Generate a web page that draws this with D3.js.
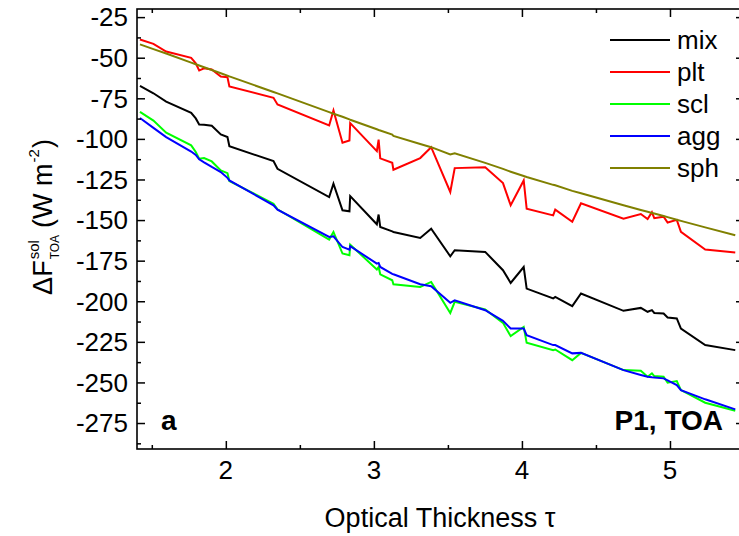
<!DOCTYPE html>
<html>
<head>
<meta charset="utf-8">
<script src="https://cdn.jsdelivr.net/npm/d3@7"></script>
<style>
  body { margin: 0; background: #fff; }
  svg { display: block; font-family: "Liberation Sans", Arial, sans-serif; }
</style>
</head>
<body>
<div id="chart"></div>
<script>
// optical thickness (shared x values)
const tau = [1.42, 1.511, 1.597, 1.766, 1.797, 1.82, 1.853, 1.905, 1.966, 2.011, 2.024, 2.322, 2.349,
  2.698, 2.727, 2.788, 2.835, 2.84, 3.02, 3.032, 3.043, 3.124, 3.132, 3.313, 3.387, 3.516, 3.546,
  3.752, 3.872, 3.924, 4.012, 4.032, 4.211, 4.225, 4.34, 4.399, 4.686, 4.803, 4.849, 4.878, 4.894,
  4.957, 4.984, 5.046, 5.074, 5.238, 5.441];

const mix = [-67.4, -71.9, -77.0, -83.9, -87.4, -91.1, -91.3, -91.9, -97.3, -98.9, -104.5, -113.7, -118.4,
  -135.8, -127.6, -144.0, -144.6, -135.2, -152.6, -146.6, -154.3, -157.0, -157.3, -161.0, -155.3, -172.3, -168.6,
  -169.6, -180.9, -188.7, -178.9, -192.2, -198.3, -197.3, -203.0, -195.2, -205.9, -204.1, -206.5, -205.5, -207.2,
  -207.5, -210.0, -210.6, -216.8, -227.0, -230.1];

const plt = [-38.8, -41.5, -46.2, -50.1, -53.4, -57.9, -56.5, -57.3, -61.6, -62.0, -67.7, -74.7, -78.8,
  -91.7, -82.5, -102.4, -101.0, -90.3, -107.5, -100.5, -112.0, -114.7, -119.0, -111.8, -105.1, -132.7, -118.0,
  -117.4, -127.2, -140.9, -125.6, -143.0, -147.1, -143.6, -151.0, -139.7, -149.1, -146.3, -149.4, -145.2, -148.8,
  -147.9, -151.5, -149.9, -157.3, -168.2, -170.0];

const scl = [-83.4, -88.7, -96.2, -104.0, -108.1, -112.2, -111.8, -113.9, -119.4, -121.1, -126.0, -139.9, -143.4,
  -162.0, -157.3, -170.6, -171.7, -165.1, -180.5, -178.9, -183.4, -187.1, -189.5, -191.2, -188.1, -207.2, -200.4,
  -205.1, -213.3, -221.5, -215.8, -225.6, -230.1, -229.7, -236.3, -231.8, -242.4, -242.8, -246.5, -244.4, -246.1,
  -246.5, -250.2, -249.2, -254.7, -262.5, -267.4];

const agg = [-87.1, -93.2, -98.9, -107.8, -109.9, -112.6, -114.5, -117.3, -120.4, -124.0, -125.6, -140.9, -143.6,
  -160.4, -160.0, -166.6, -168.2, -166.1, -176.8, -176.4, -178.9, -183.1, -183.4, -189.5, -190.7, -201.0, -199.4,
  -205.5, -212.1, -216.8, -216.8, -220.9, -227.0, -227.0, -232.1, -231.8, -242.4, -245.4, -246.5, -246.8, -246.9,
  -247.5, -248.7, -251.6, -254.7, -260.4, -266.6];

const sph = [-41.8, -44.7, -47.4, -53.0, -54.0, -54.8, -55.9, -57.6, -59.6, -61.0, -61.5, -71.1, -72.0,
  -83.5, -84.5, -86.4, -88.0, -88.2, -94.1, -94.5, -94.8, -97.4, -98.2, -103.1, -105.1, -109.6, -108.8,
  -114.8, -118.5, -120.2, -122.9, -123.5, -128.3, -128.6, -132.0, -133.5, -140.9, -143.8, -144.9, -145.6, -146.0,
  -147.5, -148.2, -149.8, -150.5, -154.5, -159.4];

const seriesNames = ["mix", "plt", "scl", "agg", "sph"];
const seriesColors = ["#000000", "#ff0000", "#00ff00", "#0000ff", "#808000"];
const seriesValues = [mix, plt, scl, agg, sph];

const xTicks = [2, 3, 4, 5];
const yTicks = [-25, -50, -75, -100, -125, -150, -175, -200, -225, -250, -275];

const width = 739, height = 536;
const plot = { left: 137, right: 744, top: 9, bottom: 449 };

const svg = d3.select("#chart").append("svg").attr("width", width).attr("height", height);

const x = d3.scaleLinear().domain([1.4, 5.5]).range([plot.left, plot.right]);
const y = d3.scaleLinear().domain([-291, -20]).range([plot.bottom, plot.top]);

// lines
const line = d3.line().x((d) => x(d[0])).y((d) => y(d[1]));
seriesValues.forEach((vals, i) => {
  svg.append("path")
    .datum(tau.map((t, j) => [t, vals[j]]))
    .attr("d", line)
    .attr("fill", "none")
    .attr("stroke", seriesColors[i])
    .attr("stroke-width", 2)
    .attr("stroke-linejoin", "miter");
});

// frame with inward ticks on all sides
const xMajor = xTicks, xMinor = d3.range(1.5, 5.6, 1);
const yMinor = d3.range(-287.5, -20, 25);
const tickStyle = (sel) => sel.call((g) => g.select(".domain").remove())
  .call((g) => g.selectAll("line").attr("stroke", "#000").attr("stroke-width", 1.5));

svg.append("g").attr("transform", `translate(0,${plot.bottom})`)
  .call(d3.axisTop(x).tickValues(xMajor).tickSize(8).tickFormat("")).call(tickStyle);
svg.append("g").attr("transform", `translate(0,${plot.bottom})`)
  .call(d3.axisTop(x).tickValues(xMinor).tickSize(4).tickFormat("")).call(tickStyle);
svg.append("g").attr("transform", `translate(0,${plot.top})`)
  .call(d3.axisBottom(x).tickValues(xMajor).tickSize(8).tickFormat("")).call(tickStyle);
svg.append("g").attr("transform", `translate(0,${plot.top})`)
  .call(d3.axisBottom(x).tickValues(xMinor).tickSize(4).tickFormat("")).call(tickStyle);
svg.append("g").attr("transform", `translate(${plot.left},0)`)
  .call(d3.axisRight(y).tickValues(yTicks).tickSize(8).tickFormat("")).call(tickStyle);
svg.append("g").attr("transform", `translate(${plot.left},0)`)
  .call(d3.axisRight(y).tickValues(yMinor).tickSize(4).tickFormat("")).call(tickStyle);
svg.append("g").attr("transform", `translate(${plot.right},0)`)
  .call(d3.axisLeft(y).tickValues(yTicks).tickSize(8).tickFormat("")).call(tickStyle);
svg.append("g").attr("transform", `translate(${plot.right},0)`)
  .call(d3.axisLeft(y).tickValues(yMinor).tickSize(4).tickFormat("")).call(tickStyle);

svg.append("rect")
  .attr("x", plot.left).attr("y", plot.top)
  .attr("width", plot.right - plot.left).attr("height", plot.bottom - plot.top)
  .attr("fill", "none").attr("stroke", "#000").attr("stroke-width", 1.6);

// tick labels
svg.append("g").selectAll("text").data(xTicks).join("text")
  .attr("x", (d) => x(d)).attr("y", 479)
  .attr("text-anchor", "middle").attr("font-size", 26).text((d) => d);
svg.append("g").selectAll("text").data(yTicks).join("text")
  .attr("x", 128).attr("y", (d) => y(d)).attr("dy", "0.36em")
  .attr("text-anchor", "end").attr("font-size", 26).text((d) => d);

// x title
svg.append("text").attr("x", 440).attr("y", 527).attr("text-anchor", "middle")
  .attr("font-size", 27).text("Optical Thickness τ");

// y title (built piece by piece for the stacked sup/sub)
const yt = svg.append("g");
const t1 = yt.append("text").attr("font-size", 27).text("ΔF");
let pos = t1.node().getComputedTextLength() + 1;
const sup = yt.append("text").attr("x", pos).attr("y", -13).attr("font-size", 15).text("sol");
const sub = yt.append("text").attr("x", pos).attr("y", 7).attr("font-size", 12).text("TOA");
pos += Math.max(sup.node().getComputedTextLength(), sub.node().getComputedTextLength()) + 7;
const t3 = yt.append("text").attr("x", pos).attr("font-size", 27).text("(W m");
pos += t3.node().getComputedTextLength() + 1;
const sup2 = yt.append("text").attr("x", pos).attr("y", -13).attr("font-size", 15).text("-2");
pos += sup2.node().getComputedTextLength() + 1;
const t4 = yt.append("text").attr("x", pos).attr("font-size", 27).text(")");
pos += t4.node().getComputedTextLength();
yt.attr("transform", `translate(52,${217 + pos / 2}) rotate(-90)`);

// panel labels
svg.append("text").attr("x", 161).attr("y", 430).attr("font-size", 28).attr("font-weight", "bold").text("a");
svg.append("text").attr("x", 723).attr("y", 430).attr("text-anchor", "end")
  .attr("font-size", 28).attr("font-weight", "bold").text("P1, TOA");

// legend
const legend = svg.append("g").selectAll("g").data(seriesNames).join("g")
  .attr("transform", (d, i) => `translate(0,${40 + i * 32})`);
legend.append("line").attr("x1", 610).attr("x2", 670)
  .attr("stroke", (d, i) => seriesColors[i]).attr("stroke-width", 2);
legend.append("text").attr("x", 677).attr("dy", "0.35em").attr("font-size", 26).text((d) => d);
</script>
</body>
</html>
